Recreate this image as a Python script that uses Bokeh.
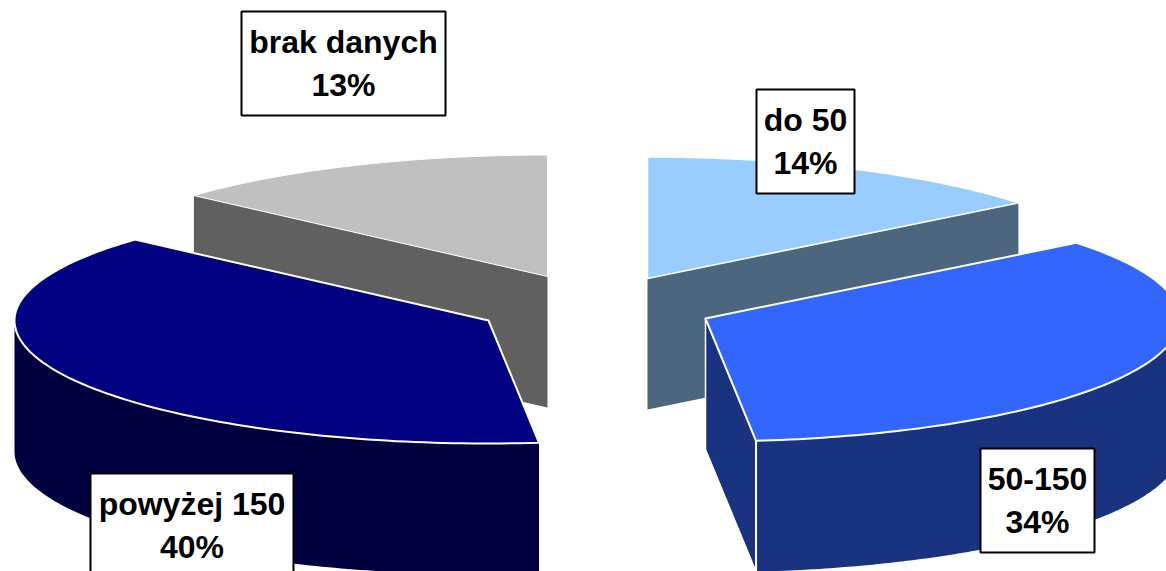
import numpy as np
from bokeh.plotting import figure
from bokeh.models import Range1d, ColumnDataSource
from bokeh.core.properties import value
from bokeh.embed import file_html
from bokeh.resources import INLINE

categories = ["do 50", "50-150", "powyżej 150", "brak danych"]
percent_labels = [14, 34, 40, 13]
# slice sizes as the perspective view draws them (percent of the full turn)
drawn_shares = [14.3, 34.0, 38.3, 13.4]
top_colors = ["#99CCFF", "#3366FF", "#000080", "#C0C0C0"]
side_colors = ["#4D6680", "#1A3380", "#000040", "#606060"]

# view geometry, in page pixels
RX, RY_FAR, RY_NEAR, DEPTH = 474.0, 121.5, 123.0, 131.0
apex_x = [647, 705, 488, 547]
apex_y = [278, 318, 320, 276]
box_left = [756, 980, 90, 241]
box_right = [854, 1094, 293, 445]
box_top = [89, 448, 473, 11]
box_bottom = [193, 552, 577, 115]

p = figure(width=1166, height=571, output_backend="svg", toolbar_location=None,
           x_range=Range1d(0, 1166), y_range=Range1d(571, 0),
           x_axis_type=None, y_axis_type=None, min_border=0, outline_line_color=None,
           background_fill_color="white", border_fill_color="white")
p.grid.visible = False

edges = np.concatenate([[0], np.cumsum(drawn_shares)]) / sum(drawn_shares) * 2 * np.pi


def rim(i, t0, t1, dy=0.0, n=120):
    t = np.linspace(t0, t1, n)
    c = np.cos(t)
    return apex_x[i] + RX * np.sin(t), apex_y[i] - np.where(c > 0, RY_FAR, RY_NEAR) * c + dy


def top(i):
    x, y = rim(i, edges[i], edges[i + 1])
    return [apex_x[i], *x], [apex_y[i], *y]


def cut_face(i, t):
    x, y = rim(i, t, t, n=1)
    xs = [apex_x[i], x[0], x[0], apex_x[i]]
    ys = [apex_y[i], y[0], y[0] + DEPTH, apex_y[i] + DEPTH]
    return xs, ys


def outer_wall(i, t0, t1):
    x, y = rim(i, t0, t1)
    return [*x, *x[::-1]], [*y, *(y[::-1] + DEPTH)]


def draw(xs, ys, fill, line="white", width=2.0):
    p.patch(xs, ys, fill_color=fill, line_color=line, line_width=width, line_join="round")


# far slices
draw(*cut_face(3, edges[3]), side_colors[3], line=None)
draw(*top(3), top_colors[3], width=1.0)
draw(*cut_face(0, edges[1]), side_colors[0], line=None)
draw(*top(0), top_colors[0], width=1.5)

# near-left slice
draw(*outer_wall(2, edges[2], 1.5 * np.pi), side_colors[2], line=None)
draw(*top(2), top_colors[2])

# near-right slice
draw(*cut_face(1, edges[2]), side_colors[1], width=1.5)
draw(*outer_wall(1, 0.5 * np.pi, edges[2]), side_colors[1], line=None)
xv, yv = rim(1, edges[2], edges[2], n=1)
p.line([xv[0], xv[0]], [yv[0], yv[0] + DEPTH], line_color="white", line_width=2)
draw(*top(1), top_colors[1])

# labels
p.quad(left=box_left, right=box_right, top=box_top, bottom=box_bottom,
       fill_color="white", line_color="black", line_width=2)
cx = [(a + b) / 2 for a, b in zip(box_left, box_right)]
cy = [(a + b) / 2 for a, b in zip(box_top, box_bottom)]
src = ColumnDataSource(dict(
    x=cx + cx,
    y=[c - 22 for c in cy] + [c + 21 for c in cy],
    t=categories + [f"{v}%" for v in percent_labels],
))
p.text("x", "y", text="t", source=src, text_font=value("Liberation Sans"), text_font_style="bold",
       text_font_size="32px", text_align="center", text_baseline="middle", text_color="black")

open("out.html", "w").write(file_html(p, INLINE))
